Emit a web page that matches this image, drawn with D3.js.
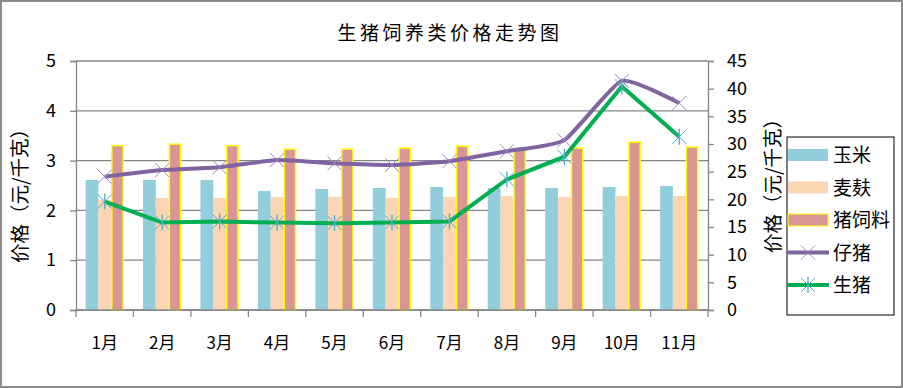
<!DOCTYPE html>
<html><head><meta charset="utf-8">
<script src="https://cdn.jsdelivr.net/npm/d3@7"></script>
<style>body{margin:0;background:#fff}svg{display:block}text{font-family:"Noto Sans CJK SC","Noto Sans",sans-serif}</style>
</head><body>
<script>
const months = ["1月","2月","3月","4月","5月","6月","7月","8月","9月","10月","11月"];
const corn = [2.61,2.61,2.61,2.39,2.43,2.45,2.47,2.45,2.45,2.47,2.49];
const bran = [2.21,2.25,2.25,2.27,2.27,2.25,2.27,2.29,2.27,2.29,2.29];
const feed = [3.30,3.33,3.30,3.23,3.23,3.25,3.29,3.24,3.25,3.37,3.27];
const piglet = [24.1,25.3,25.8,27.1,26.5,26.2,26.9,28.7,30.7,41.4,37.4];
const hog = [19.6,15.8,16.0,15.8,15.7,15.8,16.0,23.6,27.7,40.4,31.3];
const leftTicks = [0,1,2,3,4,5];
const rightTicks = [0,5,10,15,20,25,30,35,40,45];

const W=903,H=388;
const svg=d3.select("body").append("svg").attr("width",W).attr("height",H);
svg.append("rect").attr("x",1).attr("y",1).attr("width",W-2).attr("height",H-2).attr("fill","#fff").attr("stroke","#8c8c8c").attr("stroke-width",2);

const L=76,R=708,T=61,B=310;
const x=d3.scaleBand().domain(months).range([L,R]);
const yL=d3.scaleLinear().domain([0,5]).range([B,T]);
const yR=d3.scaleLinear().domain([0,45]).range([B,T]);
const gray="#868686";

svg.append("text").attr("x",450).attr("y",40).attr("text-anchor","middle").attr("font-size",19).attr("letter-spacing",3.5).text("生猪饲养类价格走势图");

// gridlines
svg.append("g").selectAll("line").data(leftTicks).join("line")
 .attr("x1",L).attr("x2",R).attr("y1",d=>yL(d)).attr("y2",d=>yL(d)).attr("stroke",gray).attr("stroke-width",1.3);

// bars
const bw=x.bandwidth()/4.5, off=(x.bandwidth()-3*bw)/2;
const series=[{v:corn,c:"#92CDDC",s:"none"},{v:bran,c:"#FCD5B5",s:"none"},{v:feed,c:"#D99694",s:"#FFFF00"}];
series.forEach((se,i)=>{
 svg.append("g").selectAll("rect").data(months).join("rect")
  .attr("x",(d)=>x(d)+off+i*bw+(se.s!=="none"?0.75:0)).attr("width",bw-(se.s!=="none"?1.5:0))
  .attr("y",(d,j)=>yL(se.v[j])).attr("height",(d,j)=>B-yL(se.v[j]))
  .attr("fill",se.c).attr("stroke",se.s).attr("stroke-width",1.5);
});

// axes
const axL=svg.append("g").attr("transform",`translate(${L},0)`).call(d3.axisLeft(yL).tickValues(leftTicks).tickFormat(d3.format("d")).tickSize(6).tickPadding(14));
const axR=svg.append("g").attr("transform",`translate(${R},0)`).call(d3.axisRight(yR).tickValues(rightTicks).tickFormat(d3.format("d")).tickSize(6).tickPadding(13));
const axB=svg.append("g").attr("transform",`translate(0,${B})`).call(d3.axisBottom(x).tickSize(0).tickPadding(27));
axB.select(".domain").remove();
svg.append("g").selectAll("line").data(d3.range(months.length+1)).join("line")
 .attr("x1",i=>L+i*x.step()).attr("x2",i=>L+i*x.step()).attr("y1",B).attr("y2",B+7).attr("stroke",gray).attr("stroke-width",1.3);
svg.append("line").attr("x1",L).attr("x2",R).attr("y1",B).attr("y2",B).attr("stroke",gray).attr("stroke-width",1.3);
[axL,axR,axB].forEach(a=>{a.selectAll(".domain,.tick line").attr("stroke",gray).attr("stroke-width",1.3);
 a.selectAll("text").attr("font-size",18).attr("fill","#000").attr("font-family","'Noto Sans CJK SC',sans-serif");});
axB.selectAll("text").attr("font-size",17);

svg.append("text").attr("transform","translate(27,191) rotate(-90)").attr("text-anchor","middle").attr("font-size",19.5).text("价格（元/千克）");
svg.append("text").attr("transform","translate(780,181) rotate(-90)").attr("text-anchor","middle").attr("font-size",19.5).text("价格（元/千克）");

const cx=d=>x(d)+x.bandwidth()/2;
svg.append("path").attr("d",d3.line().x((d,i)=>cx(months[i])).y(d=>yR(d)).curve(d3.curveCardinal.tension(0.5))(piglet)).attr("fill","none").attr("stroke","#8064A2").attr("stroke-width",4);
svg.append("path").attr("d",d3.line().x((d,i)=>cx(months[i])).y(d=>yR(d))(hog)).attr("fill","none").attr("stroke","#00B050").attr("stroke-width",4);

function xMark(g,px,py,col,star){
 const s=7;
 g.append("line").attr("x1",px-s).attr("y1",py-s).attr("x2",px+s).attr("y2",py+s).attr("stroke",col).attr("stroke-width",1);
 g.append("line").attr("x1",px-s).attr("y1",py+s).attr("x2",px+s).attr("y2",py-s).attr("stroke",col).attr("stroke-width",1);
 if(star) g.append("line").attr("x1",px).attr("y1",py-s-1).attr("x2",px).attr("y2",py+s+1).attr("stroke",col).attr("stroke-width",1.3);
}
const mg=svg.append("g");
piglet.forEach((v,i)=>xMark(mg,cx(months[i]),yR(v),"#9D87C0",false));
hog.forEach((v,i)=>xMark(mg,cx(months[i]),yR(v),"#4BACC6",true));

// legend
const lg=svg.append("g");
lg.append("rect").attr("x",787).attr("y",137).attr("width",107).attr("height",178).attr("fill","#fff").attr("stroke","#000").attr("stroke-width",1);
const items=[{n:"玉米",t:"bar",c:"#92CDDC"},{n:"麦麸",t:"bar",c:"#FCD5B5"},{n:"猪饲料",t:"bar",c:"#D99694",s:"#FFFF00"},{n:"仔猪",t:"line",c:"#8064A2",m:"#9D87C0"},{n:"生猪",t:"line",c:"#00B050",m:"#4BACC6",star:true}];
items.forEach((it,i)=>{
 const yy=155+i*32.5;
 if(it.t==="bar") lg.append("rect").attr("x",788).attr("y",yy-6).attr("width",40).attr("height",12).attr("fill",it.c).attr("stroke",it.s||"none").attr("stroke-width",1);
 else{ lg.append("line").attr("x1",787).attr("x2",829).attr("y1",yy).attr("y2",yy).attr("stroke",it.c).attr("stroke-width",4);
   xMark(lg,808,yy,it.m,it.star);}
 lg.append("text").attr("x",833).attr("y",yy+7).attr("font-size",19).text(it.n);
});
</script>
</body></html>
